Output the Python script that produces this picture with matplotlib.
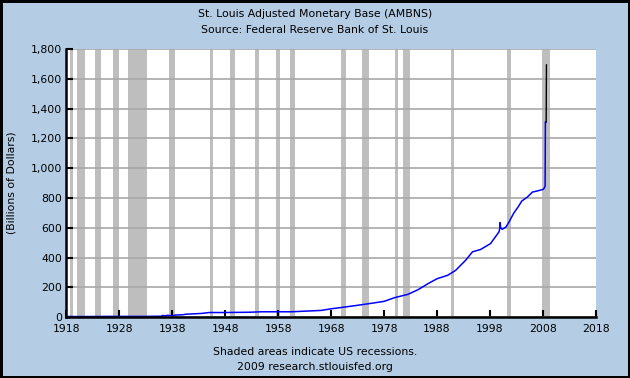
import matplotlib
matplotlib.use("Agg")
import matplotlib.pyplot as plt
from matplotlib.ticker import FuncFormatter

# monetary base, billions of dollars
years = [1918.0, 1922.0, 1926.0, 1930.0, 1933.0, 1935.0, 1935.9, 1936.2, 1936.8, 1937.0,
         1937.5, 1938.0, 1938.7, 1940.0, 1940.7, 1942.0, 1943.6, 1945.0, 1948.0, 1952.6,
         1955.0, 1958.0, 1960.5, 1963.0, 1966.1, 1968.0, 1970.0, 1972.9, 1976.0, 1978.0,
         1980.0, 1982.5, 1984.4, 1986.3, 1988.0, 1990.0, 1991.5, 1993.4, 1994.7, 1996.2,
         1998.1, 1999.7, 1999.85, 1999.9, 2000.0, 2000.3, 2001.0, 2001.6, 2002.5, 2003.3,
         2004.0, 2005.0, 2006.0, 2007.0, 2008.1, 2008.4, 2008.45, 2008.6]
base = [4, 4, 5, 5, 5, 6, 6, 11, 9, 12,
        11, 10, 14, 16, 20, 22, 25, 31, 31, 33,
        36, 36, 36, 40, 45, 56, 65, 79, 95, 106,
        131, 153, 184, 225, 258, 281, 314, 382, 439, 454,
        494, 573, 600, 635, 600, 590, 605, 640, 700, 740,
        780, 805, 840, 848, 859, 880, 1312, 1312]
last_years = [2008.6, 2008.65]
last_base = [1312, 1694]

rec_start = [1918.67, 1920.05, 1923.4, 1926.8, 1929.65, 1937.35, 1945.1, 1948.9, 1953.55,
             1957.6, 1960.25, 1969.95, 1973.85, 1980.0, 1981.55, 1990.55, 2001.2, 2007.9]
rec_end = [1919.25, 1921.5, 1924.55, 1927.9, 1933.25, 1938.5, 1945.8, 1949.8, 1954.4,
           1958.35, 1961.15, 1970.9, 1975.2, 1980.55, 1982.9, 1991.2, 2001.9, 2009.4]

fs = 7.8
bg = "#b4cde4"
fig = plt.figure(figsize=(6.3, 3.78), dpi=100, facecolor=bg, edgecolor="black", linewidth=2.5)
ax = fig.add_axes([0.105, 0.161, 0.841, 0.709])

for s, e in zip(rec_start, rec_end):
    ax.axvspan(s, e, color="#bebebe", lw=0, zorder=1)

ax.plot(years, base, color="#0000ff", lw=1.1, zorder=3)
ax.plot(last_years, last_base, color="black", lw=1.0, zorder=3)

ax.set_xlim(1918, 2018)
ax.set_ylim(0, 1800)
ax.set_xticks(range(1918, 2019, 10))
ax.set_yticks(range(0, 1801, 200))
ax.yaxis.set_major_formatter(FuncFormatter(lambda v, p: "{:,.0f}".format(v)))
ax.grid(axis="y", color="#a8a8a8", lw=1.2, zorder=2)
ax.set_axisbelow(False)
for sp in ["top", "right"]:
    ax.spines[sp].set_visible(False)
for sp in ["left", "bottom"]:
    ax.spines[sp].set_linewidth(1.8)
    ax.spines[sp].set_zorder(4)
ax.tick_params(direction="in", length=5, width=1.5, labelsize=fs, colors="black")
ax.tick_params(axis="x", pad=5)
ax.tick_params(axis="y", pad=3)
ax.set_ylabel("(Billions of Dollars)", fontsize=fs, labelpad=10)

fig.text(0.5, 0.962, "St. Louis Adjusted Monetary Base (AMBNS)", ha="center", va="center", fontsize=fs)
fig.text(0.5, 0.92, "Source: Federal Reserve Bank of St. Louis", ha="center", va="center", fontsize=fs)
fig.text(0.5, 0.07, "Shaded areas indicate US recessions.", ha="center", va="center", fontsize=fs)
fig.text(0.5, 0.028, "2009 research.stlouisfed.org", ha="center", va="center", fontsize=fs)

fig.savefig("out.png", dpi=100, facecolor=bg, edgecolor="black")
